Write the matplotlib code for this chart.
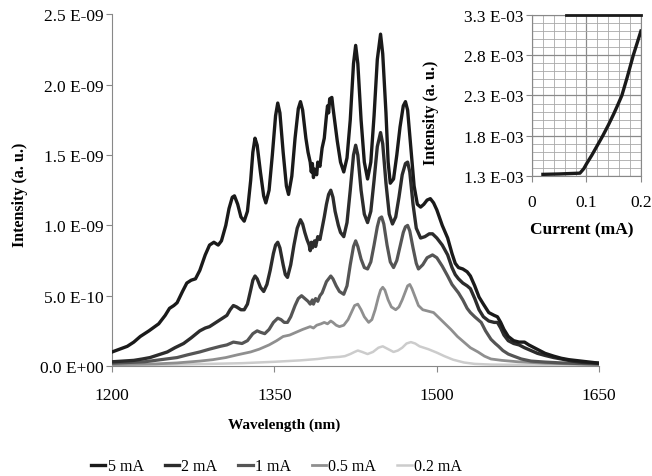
import numpy as np
import matplotlib
matplotlib.use("Agg")
import matplotlib.pyplot as plt
from matplotlib.ticker import FuncFormatter, MultipleLocator

plt.rcParams['font.family'] = ['Liberation Serif', 'DejaVu Serif']
plt.rcParams['font.size'] = 12

# spectra: wavelength in nm, intensity in units of 1e-9
wl_5ma = [1200, 1207, 1214, 1220, 1226, 1234, 1243, 1249, 1253, 1257, 1260, 1265, 1269, 1273, 1277,
          1281, 1286, 1290, 1294, 1298, 1301, 1305, 1308, 1311, 1313, 1316, 1319, 1322, 1325, 1328,
          1330, 1332, 1334, 1337, 1340, 1342, 1345, 1348, 1351, 1353, 1355, 1358, 1361, 1363, 1366,
          1369, 1372, 1374, 1376, 1379, 1381, 1383, 1384, 1385, 1386, 1387, 1389, 1390, 1392, 1394,
          1396, 1398, 1399, 1400, 1401, 1403, 1404, 1406, 1408, 1411, 1414, 1417, 1420, 1423, 1425,
          1427, 1430, 1433, 1436, 1439, 1442, 1445, 1448, 1450, 1453, 1455, 1457, 1460, 1463, 1466,
          1469, 1471, 1473, 1476, 1479, 1482, 1485, 1488, 1491, 1494, 1497, 1500, 1505, 1510, 1514,
          1517, 1520, 1524, 1528, 1531, 1535, 1539, 1543, 1548, 1553, 1556, 1559, 1562, 1566, 1571,
          1576, 1581, 1585, 1590, 1595, 1600, 1608, 1615, 1622, 1633, 1650]
i_5ma = [0.10, 0.12, 0.14, 0.17, 0.21, 0.25, 0.30, 0.36, 0.41, 0.43, 0.45, 0.53, 0.59, 0.61, 0.62,
         0.68, 0.79, 0.86, 0.88, 0.86, 0.89, 1.00, 1.12, 1.20, 1.21, 1.15, 1.06, 1.03, 1.10, 1.32,
         1.52, 1.62, 1.57, 1.38, 1.21, 1.16, 1.25, 1.50, 1.78, 1.87, 1.80, 1.52, 1.28, 1.22, 1.35,
         1.62, 1.83, 1.88, 1.82, 1.62, 1.52, 1.45, 1.38, 1.44, 1.34, 1.40, 1.36, 1.45, 1.42, 1.55,
         1.62, 1.78, 1.85, 1.80, 1.90, 1.91, 1.84, 1.72, 1.60, 1.45, 1.38, 1.48, 1.75, 2.15, 2.28,
         2.15, 1.75, 1.45, 1.33, 1.45, 1.78, 2.18, 2.36, 2.22, 1.80, 1.45, 1.30, 1.33, 1.50, 1.70,
         1.85, 1.88, 1.82, 1.55, 1.28, 1.15, 1.13, 1.15, 1.18, 1.19, 1.16, 1.11, 1.00, 0.91, 0.80,
         0.73, 0.70, 0.69, 0.67, 0.64, 0.57, 0.49, 0.44, 0.38, 0.36, 0.35, 0.31, 0.26, 0.21, 0.18,
         0.17, 0.17, 0.15, 0.13, 0.11, 0.09, 0.07, 0.055, 0.045, 0.035, 0.02]

wl_2ma = [1200, 1210, 1220, 1228, 1235, 1243, 1251, 1258, 1266, 1273, 1281, 1286, 1290, 1294, 1298,
          1302, 1306, 1309, 1312, 1315, 1319, 1322, 1325, 1328, 1330, 1332, 1334, 1337, 1340, 1343,
          1346, 1349, 1351, 1353, 1355, 1358, 1360, 1362, 1365, 1368, 1371, 1374, 1376, 1378, 1380,
          1382, 1383, 1384, 1385, 1387, 1388, 1390, 1392, 1394, 1396, 1398, 1400, 1402, 1404, 1406,
          1409, 1411, 1414, 1417, 1420, 1423, 1425, 1427, 1430, 1433, 1436, 1439, 1442, 1445, 1448,
          1450, 1453, 1456, 1459, 1462, 1465, 1468, 1471, 1473, 1475, 1478, 1481, 1485, 1489, 1493,
          1496, 1500, 1505, 1510, 1514, 1517, 1520, 1524, 1528, 1531, 1535, 1539, 1543, 1548, 1553,
          1556, 1559, 1562, 1566, 1571, 1576, 1581, 1587, 1593, 1600, 1608, 1615, 1625, 1635, 1650]
i_2ma = [0.03, 0.035, 0.04, 0.05, 0.06, 0.08, 0.10, 0.13, 0.16, 0.20, 0.25, 0.27, 0.28, 0.30, 0.32,
         0.34, 0.36, 0.40, 0.43, 0.42, 0.40, 0.40, 0.44, 0.54, 0.61, 0.64, 0.62, 0.56, 0.53, 0.58,
         0.68, 0.80, 0.86, 0.88, 0.84, 0.72, 0.65, 0.63, 0.72, 0.86, 0.98, 1.04, 1.01, 0.95, 0.90,
         0.86, 0.82, 0.88, 0.84, 0.89, 0.85, 0.92, 0.90, 0.98, 1.06, 1.15, 1.22, 1.25, 1.20, 1.10,
         1.00, 0.95, 0.92, 1.02, 1.25, 1.50, 1.57, 1.50, 1.25, 1.08, 1.02, 1.10, 1.32, 1.56, 1.66,
         1.58, 1.30, 1.08, 1.01, 1.06, 1.20, 1.36, 1.44, 1.45, 1.38, 1.15, 0.98, 0.91, 0.92, 0.94,
         0.94, 0.91, 0.86, 0.79, 0.70, 0.65, 0.62, 0.59, 0.57, 0.55, 0.48, 0.40, 0.35, 0.32, 0.31,
         0.31, 0.27, 0.22, 0.18, 0.16, 0.15, 0.13, 0.11, 0.09, 0.075, 0.06, 0.05, 0.035, 0.025, 0.02]

wl_1ma = [1200, 1215, 1230, 1245, 1260, 1270, 1281, 1290, 1300, 1306, 1312, 1316, 1320, 1325, 1330,
          1334, 1337, 1341, 1345, 1349, 1353, 1356, 1359, 1362, 1365, 1369, 1372, 1375, 1378, 1381,
          1383, 1385, 1386, 1388, 1390, 1392, 1394, 1396, 1398, 1400, 1402, 1404, 1407, 1410, 1414,
          1417, 1420, 1423, 1425, 1427, 1430, 1433, 1436, 1439, 1442, 1445, 1447, 1449, 1451, 1454,
          1457, 1460, 1463, 1466, 1469, 1471, 1473, 1475, 1478, 1481, 1483, 1487, 1491, 1496, 1500,
          1505, 1510, 1514, 1517, 1520, 1524, 1528, 1531, 1535, 1538, 1541, 1545, 1550, 1554, 1557,
          1561, 1566, 1571, 1578, 1587, 1600, 1615, 1630, 1650]
i_1ma = [0.02, 0.025, 0.03, 0.045, 0.06, 0.08, 0.10, 0.12, 0.14, 0.15, 0.17, 0.165, 0.16, 0.18, 0.23,
         0.25, 0.24, 0.23, 0.26, 0.31, 0.34, 0.33, 0.31, 0.31, 0.35, 0.43, 0.48, 0.50, 0.48, 0.46,
         0.44, 0.47, 0.44, 0.48, 0.46, 0.50, 0.52, 0.56, 0.60, 0.62, 0.64, 0.62, 0.57, 0.53, 0.51,
         0.57, 0.72, 0.85, 0.89, 0.85, 0.76, 0.70, 0.69, 0.74, 0.86, 0.99, 1.05, 1.06, 1.01, 0.86,
         0.74, 0.70, 0.75, 0.85, 0.95, 0.99, 1.00, 0.96, 0.84, 0.73, 0.69, 0.72, 0.77, 0.79, 0.77,
         0.71, 0.64, 0.58, 0.55, 0.52, 0.47, 0.41, 0.38, 0.35, 0.33, 0.31, 0.25, 0.19, 0.16, 0.14,
         0.11, 0.085, 0.07, 0.05, 0.035, 0.028, 0.022, 0.018, 0.015]

wl_05ma = [1200, 1220, 1240, 1260, 1281, 1293, 1305, 1316, 1328, 1336, 1345, 1352, 1358, 1364, 1370,
           1376, 1383, 1386, 1389, 1393, 1396, 1399, 1402, 1404, 1407, 1410, 1414, 1418, 1421, 1424,
           1427, 1430, 1433, 1437, 1440, 1443, 1446, 1448, 1450, 1452, 1455, 1458, 1462, 1465, 1468,
           1471, 1473, 1475, 1477, 1480, 1483, 1487, 1492, 1497, 1501, 1505, 1509, 1513, 1519, 1525,
           1531, 1538, 1544, 1550, 1560, 1575, 1600, 1625, 1650]
i_05ma = [0.01, 0.012, 0.015, 0.022, 0.035, 0.045, 0.06, 0.08, 0.10, 0.12, 0.15, 0.18, 0.21, 0.22, 0.24,
          0.26, 0.28, 0.27, 0.29, 0.30, 0.31, 0.30, 0.32, 0.31, 0.29, 0.28, 0.29, 0.33, 0.38, 0.43,
          0.44, 0.40, 0.35, 0.31, 0.33, 0.40, 0.49, 0.54, 0.56, 0.54, 0.47, 0.42, 0.40, 0.42, 0.47,
          0.53, 0.57, 0.58, 0.55, 0.49, 0.43, 0.40, 0.39, 0.38, 0.35, 0.32, 0.29, 0.26, 0.21, 0.17,
          0.13, 0.10, 0.07, 0.05, 0.04, 0.03, 0.02, 0.015, 0.01]

wl_02ma = [1200, 1230, 1260, 1290, 1320, 1350, 1374, 1390, 1400, 1410, 1415, 1420, 1424, 1427, 1431,
           1436, 1441, 1446, 1450, 1455, 1460, 1464, 1468, 1472, 1476, 1480, 1484, 1492, 1500, 1507,
           1515, 1525, 1535, 1550, 1600, 1650]
i_02ma = [0.005, 0.007, 0.01, 0.015, 0.02, 0.03, 0.04, 0.05, 0.06, 0.065, 0.07, 0.085, 0.10, 0.11, 0.10,
          0.085, 0.10, 0.13, 0.14, 0.12, 0.10, 0.11, 0.13, 0.16, 0.17, 0.16, 0.14, 0.12, 0.095, 0.07,
          0.045, 0.025, 0.015, 0.01, 0.007, 0.005]

labels = ['5 mA', '2 mA', '1 mA', '0.5 mA', '0.2 mA']
colors = ['#1a1a1a', '#2c2c2c', '#555555', '#8f8f8f', '#cccccc']
widths = [2.4, 2.4, 2.3, 2.0, 1.8]
y_ticks = [0, 0.5e-9, 1.0e-9, 1.5e-9, 2.0e-9, 2.5e-9]

# inset: L-I curve, current in mA, intensity in units of 1e-3
cur = [0.02, 0.05, 0.088, 0.095, 0.10, 0.11, 0.12, 0.13, 0.14, 0.15, 0.158, 0.165, 0.175, 0.186,
       0.193, 0.2]
li = [1.32, 1.325, 1.335, 1.39, 1.45, 1.56, 1.68, 1.80, 1.93, 2.07, 2.19, 2.30, 2.53, 2.80,
      2.95, 3.10]
cur_top = [0.062, 0.2]
li_top = [3.3, 3.3]


def sci(v, pos):
    return ('%.1E' % v).replace('E', ' E')


fig = plt.figure(figsize=(6.52, 4.77), dpi=100)
ax = fig.add_axes([0.172, 0.2306, 0.747, 0.737])

series = [(wl_5ma, i_5ma), (wl_2ma, i_2ma), (wl_1ma, i_1ma), (wl_05ma, i_05ma), (wl_02ma, i_02ma)]
# faint curves first so the dark ones sit on top
for k in range(4, -1, -1):
    x, y = series[k]
    ax.plot(x, np.array(y) * 1e-9, color=colors[k], lw=widths[k], label=labels[k],
            solid_joinstyle='round', zorder=10 - k)

ax.set_xlim(1200, 1650)
ax.set_ylim(0, 2.5e-9)
ax.set_xticks([1200, 1350, 1500, 1650])
ax.set_yticks(y_ticks)
ax.yaxis.set_major_formatter(FuncFormatter(sci))
for s in ['top', 'right']:
    ax.spines[s].set_visible(False)
for s in ['left', 'bottom']:
    ax.spines[s].set_color('#888888')
ax.tick_params(colors='#888888', labelcolor='black', length=4, labelsize=12.5)
ax.tick_params(axis='x', pad=11)
ax.tick_params(axis='y', pad=2)
ax.set_ylabel('Intensity (a. u.)', fontweight='bold', fontsize=11.5)
ax.yaxis.set_label_coords(-0.172, 0.49)
ax.set_xlabel('Wavelength (nm)', fontweight='bold', fontsize=11)
ax.xaxis.set_label_coords(0.353, -0.147)

handles, labs = ax.get_legend_handles_labels()
fig.legend(handles[::-1], labs[::-1], loc='center', bbox_to_anchor=(0.424, 0.02), ncol=5,
           frameon=False, handlelength=0.9, handletextpad=0.15, columnspacing=1.3, fontsize=11.5)

ins = fig.add_axes([0.816, 0.629, 0.167, 0.3375])
ins.plot(cur, np.array(li) * 1e-3, color='#1a1a1a', lw=2.4, zorder=5, solid_joinstyle='round')
ins.plot(cur_top, np.array(li_top) * 1e-3, color='#1a1a1a', lw=2.0, zorder=5, clip_on=False)
ins.set_xlim(0, 0.2)
ins.set_ylim(1.3e-3, 3.3e-3)
ins.set_xticks([0, 0.1, 0.2])
ins.set_yticks([1.3e-3, 1.8e-3, 2.3e-3, 2.8e-3, 3.3e-3])
ins.xaxis.set_minor_locator(MultipleLocator(0.02))
ins.yaxis.set_minor_locator(MultipleLocator(0.1e-3))
ins.xaxis.set_major_formatter(FuncFormatter(lambda v, p: '%g' % v))
ins.yaxis.set_major_formatter(FuncFormatter(sci))
ins.grid(which='major', color='#8a8a8a', lw=0.9)
ins.grid(which='minor', color='#a8a8a8', lw=0.6)
for s in ins.spines.values():
    s.set_color('#888888')
ins.tick_params(which='both', colors='#888888', labelcolor='black', labelsize=12.5)
ins.tick_params(which='minor', length=0)
ins.tick_params(which='major', length=4)
ins.tick_params(axis='x', pad=9)
ins.tick_params(axis='y', pad=2)
ins.set_ylabel('Intensity (a. u.)', fontweight='bold', fontsize=11.5)
ins.yaxis.set_label_coords(-0.853, 0.40)
ins.set_xlabel('Current (mA)', fontweight='bold', fontsize=12.5)
ins.xaxis.set_label_coords(0.46, -0.28)

fig.savefig('out.png', dpi=100)
